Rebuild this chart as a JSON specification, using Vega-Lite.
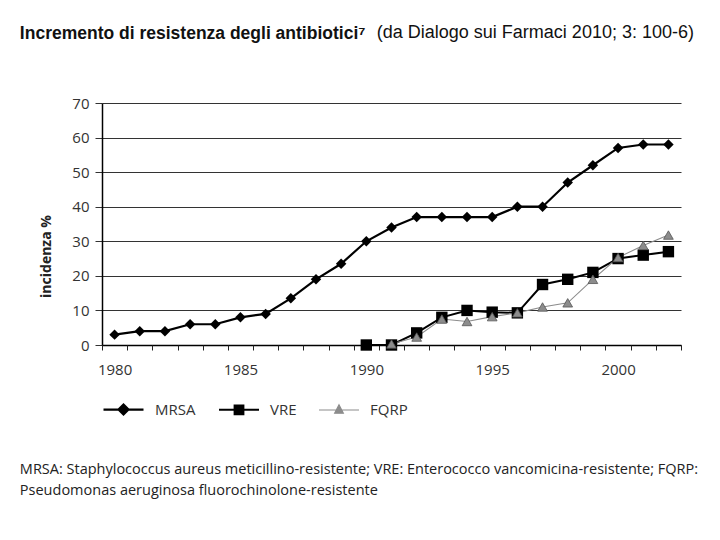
{
  "$schema": "https://vega.github.io/schema/vega-lite/v6.json",
  "background": "white",
  "padding": {"left": 19, "top": 24, "right": 10, "bottom": 10},
  "title": {
    "text": "Incremento di resistenza degli antibiotici⁷",
    "anchor": "start",
    "frame": "bounds",
    "orient": "top",
    "font": "Liberation Sans Narrow, Liberation Sans",
    "fontSize": 17.5,
    "fontWeight": "bold",
    "color": "#111111",
    "offset": 0,
    "dy": 18
  },
  "vconcat": [
    {
      "title": {
        "text": "(da Dialogo sui Farmaci 2010; 3: 100-6)",
        "anchor": "end",
        "frame": "bounds",
        "orient": "top",
        "font": "Liberation Sans",
        "fontSize": 18,
        "fontWeight": "normal",
        "color": "#111111",
        "offset": 54,
        "dx": -4
      },
      "vconcat": [
        {
          "title": {
            "text": [
              "MRSA: Staphylococcus aureus meticillino-resistente; VRE: Enterococco vancomicina-resistente; FQRP:",
              "Pseudomonas aeruginosa fluorochinolone-resistente"
            ],
            "orient": "bottom",
            "anchor": "start",
            "frame": "bounds",
            "font": "Open Sans",
            "fontSize": 14.5,
            "fontWeight": "normal",
            "color": "#222222",
            "lineHeight": 21,
            "offset": 86,
            "dx": -20
          },
          "vconcat": [
            {
              "width": 579,
              "height": 242,
              "data": {
                "values": [
                  {"anno": 1980, "serie": "MRSA", "valore": 3},
                  {"anno": 1981, "serie": "MRSA", "valore": 4},
                  {"anno": 1982, "serie": "MRSA", "valore": 4},
                  {"anno": 1983, "serie": "MRSA", "valore": 6},
                  {"anno": 1984, "serie": "MRSA", "valore": 6},
                  {"anno": 1985, "serie": "MRSA", "valore": 8},
                  {"anno": 1986, "serie": "MRSA", "valore": 9},
                  {"anno": 1987, "serie": "MRSA", "valore": 13.5},
                  {"anno": 1988, "serie": "MRSA", "valore": 19},
                  {"anno": 1989, "serie": "MRSA", "valore": 23.5},
                  {"anno": 1990, "serie": "MRSA", "valore": 30},
                  {"anno": 1991, "serie": "MRSA", "valore": 34},
                  {"anno": 1992, "serie": "MRSA", "valore": 37},
                  {"anno": 1993, "serie": "MRSA", "valore": 37},
                  {"anno": 1994, "serie": "MRSA", "valore": 37},
                  {"anno": 1995, "serie": "MRSA", "valore": 37},
                  {"anno": 1996, "serie": "MRSA", "valore": 40},
                  {"anno": 1997, "serie": "MRSA", "valore": 40},
                  {"anno": 1998, "serie": "MRSA", "valore": 47},
                  {"anno": 1999, "serie": "MRSA", "valore": 52},
                  {"anno": 2000, "serie": "MRSA", "valore": 57},
                  {"anno": 2001, "serie": "MRSA", "valore": 58},
                  {"anno": 2002, "serie": "MRSA", "valore": 58},
                  {"anno": 1990, "serie": "VRE", "valore": 0},
                  {"anno": 1991, "serie": "VRE", "valore": 0},
                  {"anno": 1992, "serie": "VRE", "valore": 3.5},
                  {"anno": 1993, "serie": "VRE", "valore": 8},
                  {"anno": 1994, "serie": "VRE", "valore": 10},
                  {"anno": 1995, "serie": "VRE", "valore": 9.5},
                  {"anno": 1996, "serie": "VRE", "valore": 9.3},
                  {"anno": 1997, "serie": "VRE", "valore": 17.5},
                  {"anno": 1998, "serie": "VRE", "valore": 19},
                  {"anno": 1999, "serie": "VRE", "valore": 21},
                  {"anno": 2000, "serie": "VRE", "valore": 25},
                  {"anno": 2001, "serie": "VRE", "valore": 26},
                  {"anno": 2002, "serie": "VRE", "valore": 27},
                  {"anno": 1991, "serie": "FQRP", "valore": 0.3},
                  {"anno": 1992, "serie": "FQRP", "valore": 2.3},
                  {"anno": 1993, "serie": "FQRP", "valore": 7.5},
                  {"anno": 1994, "serie": "FQRP", "valore": 6.8},
                  {"anno": 1995, "serie": "FQRP", "valore": 8.2},
                  {"anno": 1996, "serie": "FQRP", "valore": 9.3},
                  {"anno": 1997, "serie": "FQRP", "valore": 11},
                  {"anno": 1998, "serie": "FQRP", "valore": 12.2},
                  {"anno": 1999, "serie": "FQRP", "valore": 19},
                  {"anno": 2000, "serie": "FQRP", "valore": 25.3},
                  {"anno": 2001, "serie": "FQRP", "valore": 28.8},
                  {"anno": 2002, "serie": "FQRP", "valore": 31.8}
                ]
              },
              "encoding": {
                "y": {
                  "field": "valore",
                  "type": "quantitative",
                  "scale": {"domain": [0, 70], "nice": false},
                  "axis": {
                    "values": [0, 10, 20, 30, 40, 50, 60, 70],
                    "format": "d",
                    "title": "incidenza %",
                    "titleFont": "Open Sans",
                    "titleFontSize": 14,
                    "titleFontWeight": "bold",
                    "titleColor": "#222222",
                    "titlePadding": 18,
                    "titleY": 153,
                    "grid": true,
                    "gridColor": "#333333",
                    "gridWidth": 1,
                    "domainColor": "black",
                    "domainWidth": 1.5,
                    "tickColor": "#333333",
                    "tickSize": 7,
                    "labelFont": "Open Sans",
                    "labelFontSize": 15,
                    "labelColor": "#333333",
                    "labelPadding": 6
                  }
                }
              },
              "layer": [
                {
                  "mark": {"type": "line"},
                  "encoding": {
                    "x": {
                      "field": "anno",
                      "type": "quantitative",
                      "scale": {"domain": [1979.5, 2002.5], "nice": false, "zero": false},
                      "axis": {
                        "orient": "bottom",
                        "values": [1980, 1985, 1990, 1995, 2000],
                        "format": "d",
                        "ticks": false,
                        "grid": false,
                        "domainColor": "black",
                        "domainWidth": 1.5,
                        "labelFont": "Open Sans",
                        "labelFontSize": 15,
                        "labelColor": "#333333",
                        "labelPadding": 17,
                        "title": null
                      }
                    },
                    "color": {
                      "field": "serie",
                      "type": "nominal",
                      "scale": {"domain": ["MRSA", "VRE", "FQRP"], "range": ["black", "black", "#8c8c8c"]},
                      "legend": {
                        "orient": "none",
                        "legendX": 0,
                        "legendY": 285,
                        "direction": "horizontal",
                        "title": null,
                        "symbolSize": 1600,
                        "symbolType": "M-1,0H1",
                        "labelFont": "Open Sans",
                        "labelFontSize": 15,
                        "labelColor": "#333333",
                        "labelOffset": 10,
                        "columnPadding": 19,
                        "encoding": {
                          "symbols": {
                            "shape": {"value": {"expr": "datum.value === 'MRSA' ? 'M-1,0H1M0,-0.25L0.25,0L0,0.25L-0.25,0Z' : datum.value === 'VRE' ? 'M-1,0H1M-0.22,-0.22H0.22V0.22H-0.22Z' : 'M-1,0H1M0,-0.26L0.22,0.16H-0.22Z'"}},
                            "fill": {"value": {"expr": "datum.value === 'FQRP' ? '#8c8c8c' : 'black'"}},
                            "stroke": {"value": {"expr": "datum.value === 'FQRP' ? '#777777' : 'black'"}},
                            "strokeWidth": {"value": {"expr": "datum.value === 'FQRP' ? 1 : 2"}},
                            "size": {"value": 1600},
                            "opacity": {"value": 1}
                          }
                        }
                      }
                    },
                    "strokeWidth": {
                      "field": "serie",
                      "type": "nominal",
                      "scale": {"type": "ordinal", "domain": ["MRSA", "VRE", "FQRP"], "range": [2.2, 2, 1.1]},
                      "legend": null
                    }
                  }
                },
                {
                  "transform": [{"filter": "datum.serie === 'MRSA'"}],
                  "mark": {"type": "point", "filled": true, "shape": "diamond", "size": 110, "color": "black", "opacity": 1},
                  "encoding": {
                    "x": {
                      "field": "anno",
                      "type": "quantitative",
                      "axis": {
                        "orient": "bottom",
                        "values": [1979.5, 1980.5, 1981.5, 1982.5, 1983.5, 1984.5, 1985.5, 1986.5, 1987.5, 1988.5, 1989.5, 1990.5, 1991.5, 1992.5, 1993.5, 1994.5, 1995.5, 1996.5, 1997.5, 1998.5, 1999.5, 2000.5, 2001.5, 2002.5],
                        "labels": false,
                        "domain": false,
                        "grid": false,
                        "ticks": true,
                        "tickSize": 5,
                        "tickWidth": 1,
                        "tickColor": "#222222",
                        "title": null
                      }
                    }
                  }
                },
                {
                  "transform": [{"filter": "datum.serie === 'VRE'"}],
                  "mark": {"type": "point", "filled": true, "shape": "square", "size": 130, "color": "black", "opacity": 1},
                  "encoding": {
                    "x": {"field": "anno", "type": "quantitative", "axis": null}
                  }
                },
                {
                  "transform": [{"filter": "datum.serie === 'FQRP'"}],
                  "mark": {"type": "point", "filled": true, "shape": "triangle-up", "size": 95, "fill": "#8c8c8c", "stroke": "#555555", "strokeWidth": 0.8, "opacity": 1},
                  "encoding": {
                    "x": {"field": "anno", "type": "quantitative", "axis": null}
                  }
                }
              ],
              "resolve": {"axis": {"x": "independent"}}
            }
          ]
        }
      ]
    }
  ],
  "config": {"view": {"stroke": null}}
}
